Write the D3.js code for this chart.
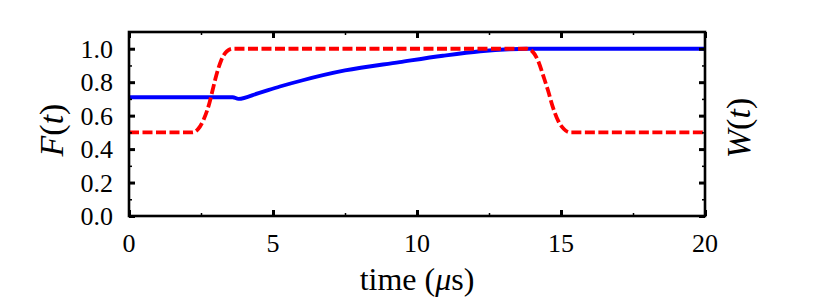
<!DOCTYPE html>
<html>
<head>
<meta charset="utf-8">
<script src="https://cdn.jsdelivr.net/npm/d3@7"></script>
<style>
  body { margin: 0; background: #fff; }
</style>
</head>
<body>
<div id="chart"></div>
<script>
// F(t) - solid blue
const fTime = [0, 3.6, 3.8, 4.5, 5.24, 6, 7.5, 9.4, 10.9, 12.2, 13.2, 13.8, 20];
const fValue = [0.71, 0.71, 0.70, 0.735, 0.774, 0.81, 0.87, 0.92, 0.958, 0.985, 0.997, 1.0, 1.0];

// W(t) - dashed red
const wTime = [0, 2.2, 2.4, 2.6, 2.8, 2.9, 3.0, 3.2, 3.4, 3.6, 13.8, 14.0, 14.2, 14.4, 14.55, 14.7, 14.9, 15.1, 15.3, 20];
const wValue = [0.5, 0.5, 0.52, 0.58, 0.68, 0.75, 0.82, 0.93, 0.985, 1.0, 1.0, 0.985, 0.93, 0.83, 0.75, 0.66, 0.57, 0.52, 0.5, 0.5];

const xTicks = [0, 5, 10, 15, 20];
const yTicks = [0, 0.2, 0.4, 0.6, 0.8, 1.0];

const serif = "'Liberation Serif', 'DejaVu Serif', serif";

// Set the margins
let margin = {top: 32, right: 125, bottom: 91, left: 129};
let width = 830 - margin.left - margin.right;
let height = 307 - margin.top - margin.bottom;

let svg = d3.select("#chart").append("svg")
    .attr("width", 830)
    .attr("height", 307)
    .attr("font-family", serif)
    .append("g")
    .attr("transform", "translate(" + margin.left + "," + margin.top + ")");

const xScale = d3.scaleLinear().domain([0, 20]).range([0, width]);
const yScale = d3.scaleLinear().domain([0, 1.1]).range([height, 0]);

const fData = fTime.map((t, i) => ({t: t, v: fValue[i]}));
const wData = wTime.map((t, i) => ({t: t, v: wValue[i]}));

const line = d3.line()
    .x(d => xScale(d.t))
    .y(d => yScale(d.v))
    .curve(d3.curveMonotoneX);

// clip to plot area
svg.append("clipPath").attr("id", "clip")
    .append("rect").attr("width", width).attr("height", height);

svg.append("path")
    .datum(fData)
    .attr("clip-path", "url(#clip)")
    .attr("fill", "none")
    .attr("stroke", "#0000ff")
    .attr("stroke-width", 3.8)
    .attr("d", line);

svg.append("path")
    .datum(wData)
    .attr("clip-path", "url(#clip)")
    .attr("fill", "none")
    .attr("stroke", "#ff0000")
    .attr("stroke-width", 3.8)
    .attr("stroke-dasharray", "10,3.5")
    .attr("d", line);

// minor / major ticks (inward) on all four sides
const xMinor = d3.range(0, 20.01, 2.5).filter(v => v % 5 !== 0);
const yMinor = d3.range(0.1, 1.1, 0.2);

function addTicks(axisFn, scale, values, size, sw, transform) {
    svg.append("g")
        .attr("transform", transform)
        .call(axisFn(scale).tickValues(values).tickSize(size).tickFormat(""))
        .call(g => g.select(".domain").remove())
        .call(g => g.selectAll("line").attr("stroke", "#000").attr("stroke-width", sw));
}
addTicks(d3.axisTop, xScale, xTicks, 6, 3, `translate(0,${height})`);
addTicks(d3.axisTop, xScale, xMinor, 3, 1.5, `translate(0,${height})`);
addTicks(d3.axisBottom, xScale, xTicks, 6, 3, "translate(0,0)");
addTicks(d3.axisBottom, xScale, xMinor, 3, 1.5, "translate(0,0)");
addTicks(d3.axisRight, yScale, yTicks, 6, 3, "translate(0,0)");
addTicks(d3.axisRight, yScale, yMinor, 3, 1.5, "translate(0,0)");
addTicks(d3.axisLeft, yScale, yTicks, 6, 3, `translate(${width},0)`);
addTicks(d3.axisLeft, yScale, yMinor, 3, 1.5, `translate(${width},0)`);

// tick labels
svg.append("g")
    .selectAll("text")
    .data(xTicks)
    .join("text")
    .attr("x", d => xScale(d))
    .attr("y", height + 36)
    .attr("text-anchor", "middle")
    .attr("font-size", 26)
    .text(d => d);

svg.append("g")
    .selectAll("text")
    .data(yTicks)
    .join("text")
    .attr("x", -16)
    .attr("y", d => yScale(d) + 9)
    .attr("text-anchor", "end")
    .attr("font-size", 26)
    .text(d => d.toFixed(1));

// frame
svg.append("rect")
    .attr("width", width)
    .attr("height", height)
    .attr("fill", "none")
    .attr("stroke", "#000")
    .attr("stroke-width", 2.6);

// axis titles
svg.append("text")
    .attr("x", width / 2)
    .attr("y", height + 74)
    .attr("text-anchor", "middle")
    .attr("font-size", 32)
    .html('time (<tspan font-style="italic">μ</tspan>s)');

svg.append("text")
    .attr("transform", `translate(${-66},${height / 2 + 6}) rotate(-90)`)
    .attr("text-anchor", "middle")
    .attr("font-size", 34)
    .html('<tspan font-style="italic">F</tspan>(<tspan font-style="italic">t</tspan>)');

svg.append("text")
    .attr("transform", `translate(${width + 45},${height / 2 + 4}) rotate(-90)`)
    .attr("text-anchor", "middle")
    .attr("font-size", 34)
    .html('<tspan font-style="italic">W</tspan>(<tspan font-style="italic">t</tspan>)');
</script>
</body>
</html>
